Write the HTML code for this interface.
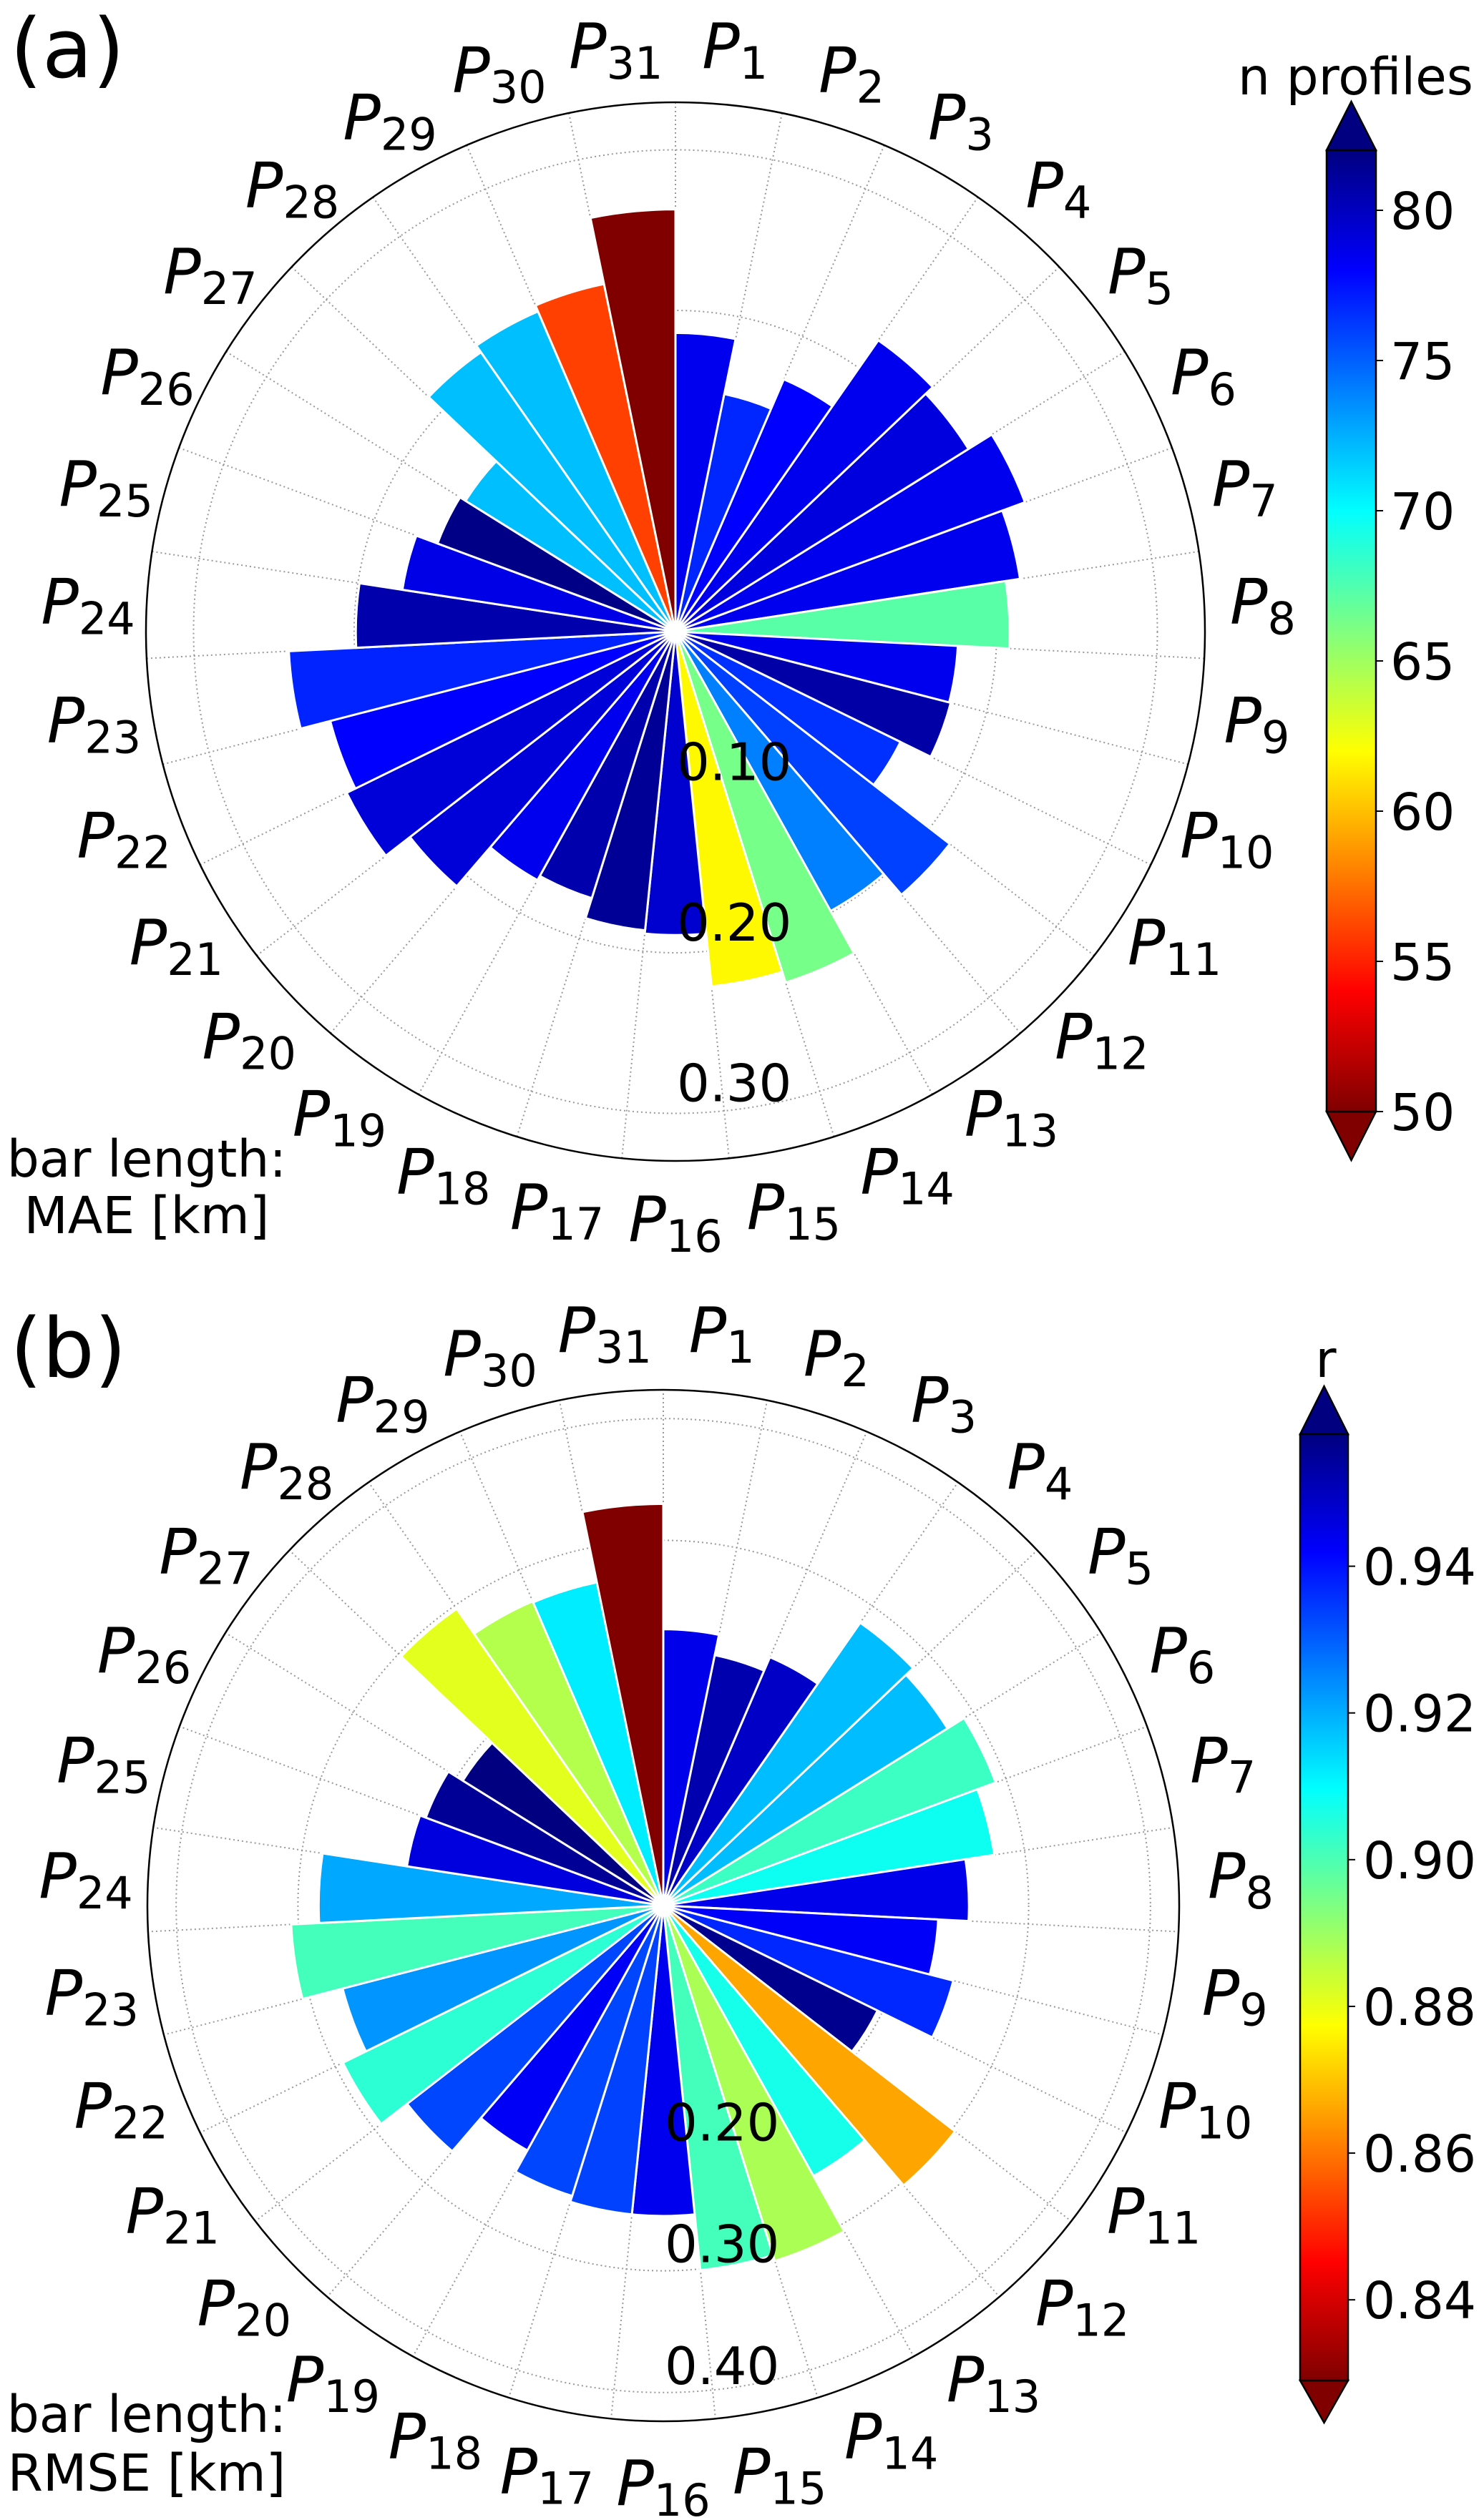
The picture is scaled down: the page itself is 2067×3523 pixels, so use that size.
<!DOCTYPE html>
<html><head><meta charset="utf-8"><style>html,body{margin:0;padding:0;background:#fff}svg{display:block}text{font-family:"DejaVu Sans","Liberation Sans",sans-serif;fill:#000}</style></head>
<body>
<svg id="fig" xmlns="http://www.w3.org/2000/svg" width="2067" height="3523" viewBox="0 0 2067 3523">
<defs>
<linearGradient id="gradA" x1="0" y1="1" x2="0" y2="0"></linearGradient>
<linearGradient id="gradB" x1="0" y1="1" x2="0" y2="0"></linearGradient>
</defs>
<text x="14" y="108" font-size="115">(a)</text>
<text x="14" y="1925" font-size="115">(b)</text>
<text font-size="71" text-anchor="middle"><tspan x="205" y="1645">bar length:</tspan><tspan x="205" y="1724">MAE [km]</tspan></text>
<text font-size="71" text-anchor="middle"><tspan x="205" y="3400">bar length:</tspan><tspan x="205" y="3482">RMSE [km]</tspan></text>
<g id="panelA"></g>
<g id="panelB"></g>
<g id="cbarA"></g>
<g id="cbarB"></g>
</svg>
<script>
const profileLabels = ["1","2","3","4","5","6","7","8","9","10","11","12","13","14","15","16","17","18","19","20","21","22","23","24","25","26","27","28","29","30","31"];
const maeValues = [0.186,0.151,0.171,0.221,0.215,0.232,0.217,0.208,0.176,0.177,0.156,0.216,0.199,0.229,0.222,0.189,0.187,0.174,0.177,0.209,0.228,0.222,0.241,0.199,0.172,0.158,0.154,0.212,0.217,0.221,0.263];
const nProfiles = [78.5,76.8,78,78.5,79,78.5,78.5,67.2,78.5,80.8,76.5,76,74,66.3,61.8,79.5,81.3,80.6,78.5,79.2,79.2,78,76.9,80.6,78.8,81.8,72,72,72,56,50];
const rmseValues = [0.227,0.210,0.222,0.283,0.275,0.291,0.275,0.251,0.226,0.246,0.196,0.303,0.254,0.306,0.301,0.255,0.255,0.250,0.230,0.266,0.293,0.272,0.306,0.283,0.213,0.208,0.194,0.297,0.272,0.271,0.330];
const rValues = [0.9445,0.952,0.949,0.918,0.918,0.902,0.908,0.9445,0.9425,0.937,0.956,0.866,0.907,0.888,0.901,0.944,0.9335,0.933,0.943,0.933,0.904,0.923,0.901,0.9205,0.946,0.955,0.958,0.881,0.887,0.912,0.829];
const maeTicks = [0.10,0.20,0.30];
const rmseTicks = [0.20,0.30,0.40];
const nTicks = [50,55,60,65,70,75,80];
const rTicks = [0.84,0.86,0.88,0.90,0.92,0.94];

const NS="http://www.w3.org/2000/svg";
function mk(tag,attrs,parent){const e=document.createElementNS(NS,tag);for(const k in attrs)e.setAttribute(k,attrs[k]);if(parent)parent.appendChild(e);return e;}
function jet(f){f=Math.max(0,Math.min(1,f));const c=x=>Math.round(255*Math.max(0,Math.min(1,x)));return `rgb(${c(1.5-Math.abs(4*f-3))},${c(1.5-Math.abs(4*f-2))},${c(1.5-Math.abs(4*f-1))})`;}
function jetR(v,lo,hi){return jet(1-(v-lo)/(hi-lo));}

function drawPolar(gid,cx,cy,R,scale,vals,cvals,lo,hi,ticks,tickFmt,labR,tickOff,name){
  const g=document.getElementById(gid);
  const N=vals.length, step=2*Math.PI/N;
  const pt=(a,r)=>[cx+r*Math.sin(a),cy-r*Math.cos(a)];
  const gridMax=Math.floor(R/scale*10+1e-6);
  for(let k=1;k<=gridMax;k++){const r=k*0.1*scale;if(r<R-2){
    const c=mk('circle',{cx:cx,cy:cy,r:r,fill:'none',stroke:'#999','stroke-width':2,'stroke-dasharray':'2,4'},g);
    
    }}
  for(let i=0;i<N;i++){const [x,y]=pt(i*step,R);
    const l=mk('line',{x1:cx,y1:cy,x2:x,y2:y,stroke:'#999','stroke-width':2,'stroke-dasharray':'2,4'},g);
    
    }
  for(let i=0;i<N;i++){
    const r=vals[i]*scale, a0=i*step, a1=(i+1)*step;
    const [x0,y0]=pt(a0,r),[x1,y1]=pt(a1,r);
    const p=mk('path',{d:`M${cx},${cy} L${x0},${y0} A${r},${r} 0 0 1 ${x1},${y1} Z`,fill:jetR(cvals[i],lo,hi),stroke:'#fff','stroke-width':3,'stroke-linejoin':'miter'},g);
    
    
  }
  const oc=mk('circle',{cx:cx,cy:cy,r:R,fill:'none',stroke:'#000','stroke-width':2.5},g);
  
  
  ticks.forEach(t=>{const tx=mk('text',{x:cx+2,y:cy+t*scale-tickOff,'font-size':72},g);tx.textContent=t.toFixed(2);
    
    });
  for(let i=0;i<N;i++){const [x,y]=pt((i+0.5)*step,labR);
    const t=mk('text',{x:x,y:y+30,'text-anchor':'middle','font-size':87},g);
    
    
    const p1=mk('tspan',{'font-style':'italic'},t);p1.textContent='P';
    const p2=mk('tspan',{'font-size':62,dy:15},t);p2.textContent=profileLabels[i];
  }
}
drawPolar('panelA',944,883,740,2245,maeValues,nProfiles,50,82,maeTicks,2,822,17,'mae');
drawPolar('panelB',927,2664,721,1702,rmseValues,rValues,0.829,0.958,rmseTicks,2,808,12,'rmse');

function drawCbar(gid,gradId,x0,x1,yTop,yBot,apexTop,apexBot,lo,hi,ticks,dec,title,titleX,titleY,titleAnchor,labX,name){
  const g=document.getElementById(gid);
  const grad=document.getElementById(gradId);
  for(let k=0;k<=40;k++){mk('stop',{offset:(k/40),'stop-color':jet(1-k/40)},grad);}
  const xm=(x0+x1)/2;
  const top=mk('polygon',{points:`${x0},${yTop} ${xm},${apexTop} ${x1},${yTop}`,fill:jet(0),stroke:'#000','stroke-width':2.5},g);
  
  
  const bot=mk('polygon',{points:`${x0},${yBot} ${xm},${apexBot} ${x1},${yBot}`,fill:jet(1),stroke:'#000','stroke-width':2.5},g);
  
  
  const rect=mk('rect',{x:x0,y:yTop,width:x1-x0,height:yBot-yTop,fill:`url(#${gradId})`,stroke:'#000','stroke-width':2.5},g);
  
  
  ticks.forEach(v=>{const y=yBot-(v-lo)/(hi-lo)*(yBot-yTop);
    const l=mk('line',{x1:x1,y1:y,x2:x1+10,y2:y,stroke:'#000','stroke-width':2},g);
    
    
    const t=mk('text',{x:labX,y:y+26,'font-size':71},g);t.textContent=v.toFixed(dec);
    
    });
  const tt=mk('text',{x:titleX,y:titleY,'font-size':71,'text-anchor':titleAnchor},g);tt.textContent=title;
  
  
}
drawCbar('cbarA','gradA',1854,1923,210,1554,142,1622,50,82,nTicks,0,'n profiles',1730,132,'start',1943,'colorbar-a');
drawCbar('cbarB','gradB',1817,1884,2005,3328,1938,3387,0.829,0.958,rTicks,2,'r',1853,1925,'middle',1905,'colorbar-b');
</script>
</body></html>
